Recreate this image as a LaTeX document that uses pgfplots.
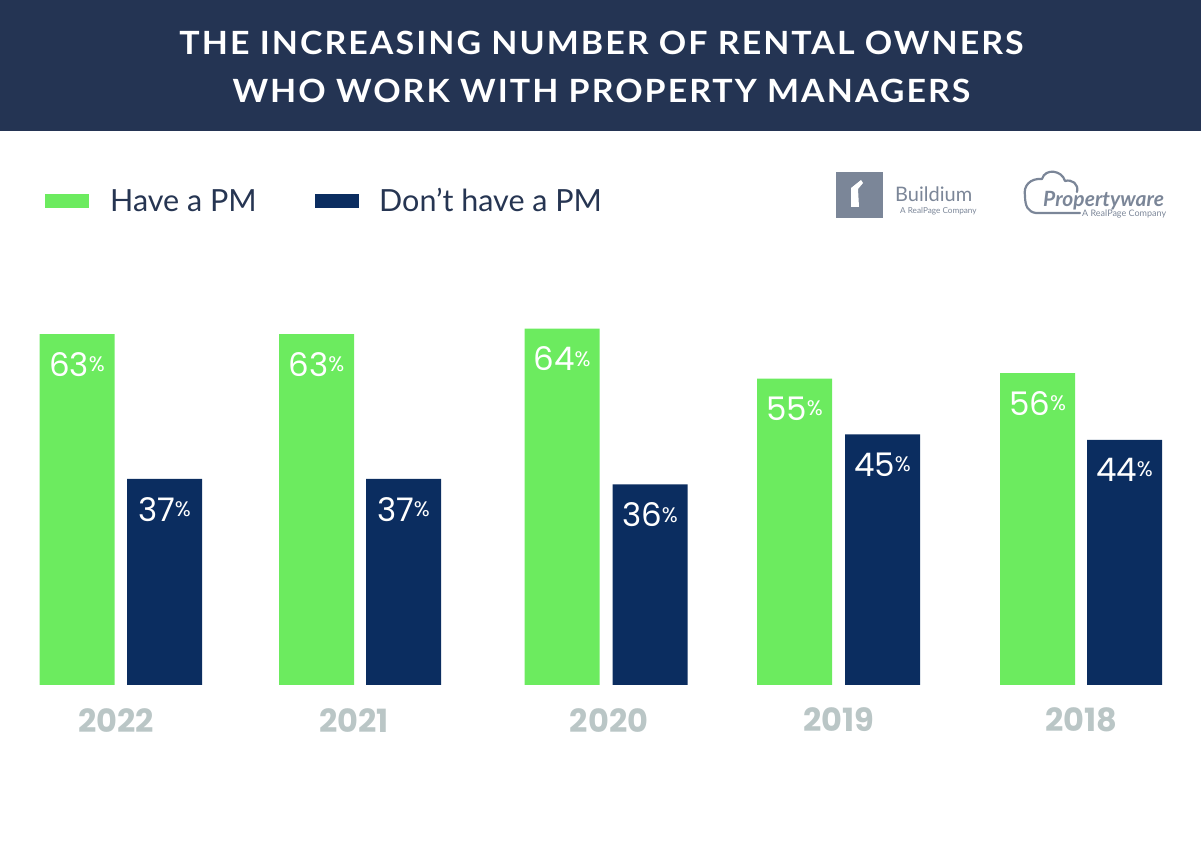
\documentclass[border=0pt]{standalone}
\usepackage{pgfplots}
\pgfplotsset{compat=1.18}
\usepackage{fontspec}
\setmainfont{Lato}
\newfontfamily\pop{Poppins}
\newfontfamily\titlefont[LetterSpace=6]{Lato}
\definecolor{band}{HTML}{243453}
\definecolor{pmgreen}{HTML}{6CEB5F}
\definecolor{pmnavy}{HTML}{0B2D60}
\definecolor{legtext}{HTML}{263552}
\definecolor{yeargray}{HTML}{BAC6C6}
\definecolor{logogray}{HTML}{7B8698}
\begin{document}
\begin{tikzpicture}
\useasboundingbox (0,0) rectangle (1201pt,860pt);
\begin{axis}[
    at={(0,0)}, anchor=south west,
    scale only axis, width=1201pt, height=860pt,
    xmin=0, xmax=1201, ymin=-31.42, ymax=122.98,
    axis line style={draw=none}, ticks=none, clip=false,
    ybar, bar width=75, bar shift=0pt,
    /pgf/number format/assume math mode=true,
    nodes near coords={\pgfmathprintnumber{\pgfplotspointmeta}\raisebox{4.5pt}{\fontsize{21}{21}\selectfont\%}},
    every node near coord/.append style={anchor=north, inner sep=0pt, yshift=-18pt,
        text=white, font=\pop\fontsize{32.5}{32.5}\selectfont},
]
% Have a PM
\addplot[fill=pmgreen, draw=none] coordinates {(77,63) (316.5,63) (562,64) (794.5,55) (1037.5,56)};
% Don't have a PM
\addplot[fill=pmnavy, draw=none] coordinates {(164.5,37) (403.5,37) (650,36) (882.5,45) (1124.5,44)};
\begin{scope}[every node/.style={text=yeargray, font=\pop\fontsize{32}{32}\selectfont\bfseries}]
\node at (axis cs:116,-6.3) {2022};
\node at (axis cs:354,-6.3) {2021};
\node at (axis cs:609,-6.3) {2020};
\node at (axis cs:839,-6.3) {2019};
\node at (axis cs:1081,-6.3) {2018};
\end{scope}
\end{axis}
\begin{scope}[x=1pt, y=-1pt, shift={(0pt,860pt)}]
% header band
\fill[band] (0,0) rectangle (1201,131);
\node[anchor=base, inner sep=0pt, text=white, font=\titlefont\fontsize{32}{32}\selectfont\bfseries] at (601.5,55) {\scalebox{1.06}[1]{THE INCREASING NUMBER OF RENTAL OWNERS}};
\node[anchor=base, inner sep=0pt, text=white, font=\titlefont\fontsize{32}{32}\selectfont\bfseries] at (601.5,103) {\scalebox{1.06}[1]{WHO WORK WITH PROPERTY MANAGERS}};
% legend
\fill[pmgreen] (45,194) rectangle (89,208);
\node[anchor=base west, inner sep=0pt, text=legtext, font=\fontsize{30.5}{30.5}\selectfont] at (110,212) {Have a PM};
\fill[pmnavy] (315,194) rectangle (359,208);
\node[anchor=base west, inner sep=0pt, text=legtext, font=\fontsize{30.5}{30.5}\selectfont] at (379,212) {Don’t have a PM};
% Buildium logo
\fill[logogray] (836,172) rectangle (883,218);
\fill[white] (851,188) -- (861,180) -- (863,183) -- (858,189) -- (859,207) -- (851,207) -- cycle;
\node[anchor=base west, inner sep=0pt, text=logogray, font=\fontsize{20}{20}\selectfont] at (895,202) {Buildium};
\node[anchor=base west, inner sep=0pt, text=logogray, font=\fontsize{8.2}{8.2}\selectfont] at (900,214) {A RealPage Company};
% Propertyware logo
\draw[logogray, line width=2.2pt, line cap=round, line join=round]
    (1077,192) .. controls (1079,184) and (1072,179) .. (1065,181)
    .. controls (1062,170) and (1045,168) .. (1042,179)
    .. controls (1030,178) and (1023,186) .. (1025,196)
    .. controls (1025,206) and (1028,212) .. (1036,213)
    -- (1080,213);
\node[anchor=base west, inner sep=0pt, text=logogray, font=\fontsize{21}{21}\selectfont\bfseries\itshape] at (1043,207) {Propertyware};
\node[anchor=base west, inner sep=0pt, text=logogray, font=\fontsize{9}{9}\selectfont] at (1082,217) {A RealPage Company};
\end{scope}
\end{tikzpicture}
\end{document}
